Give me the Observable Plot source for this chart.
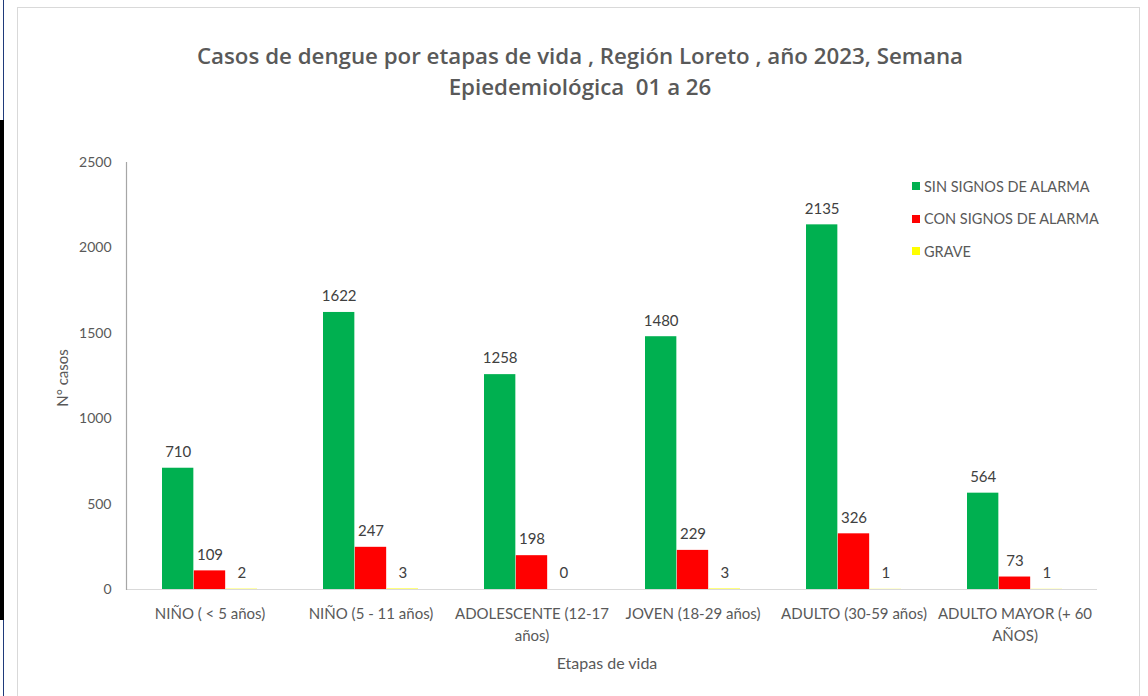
<!DOCTYPE html>
<html>
<head>
<meta charset="utf-8">
<script src="https://cdn.jsdelivr.net/npm/d3@7"></script>
<script src="https://cdn.jsdelivr.net/npm/@observablehq/plot@0.6"></script>
<style>
  html, body { margin: 0; padding: 0; background: #fff; }
  #page { position: relative; width: 1148px; height: 696px; overflow: hidden; background: #fff; font-family: Lato, "Open Sans", sans-serif; }
  #chart { position: absolute; left: 0; top: 0; }
  .strip { position: absolute; left: 0; width: 3px; }
  #frame { position: absolute; left: 17px; top: 7px; width: 1123px; height: 720px; border: 1px solid #d9d9d9; box-sizing: border-box; }
  #title { position: absolute; left: 0; width: 1160px; top: 40px; text-align: center; color: #595959; font-family: "Open Sans", sans-serif; font-weight: 600; font-size: 22.3px; line-height: 31px; }
  #legend { position: absolute; left: 912px; top: 170px; color: #595959; font-size: 14.5px; }
  #legend .row { display: flex; align-items: center; height: 32.5px; }
  #legend .sw { width: 8px; height: 8px; margin-right: 4px; }
  #ytitle { position: absolute; left: 62px; top: 378px; transform: translate(-50%, -50%) rotate(-90deg); color: #595959; font-size: 15px; white-space: nowrap; }
  #xtitle { position: absolute; left: 607px; top: 662px; transform: translate(-50%, -50%); color: #595959; font-size: 16px; white-space: nowrap; }
</style>
</head>
<body>
<div id="page">
  <div class="strip" style="top:0;height:120px;border-right:1px solid #1f3a7a;background:#fff;width:3px"></div>
  <div class="strip" style="top:120px;height:500px;background:#000;width:4px"></div>
  <div class="strip" style="top:620px;height:76px;border-right:1px solid #1f3a7a;background:#fff;width:3px"></div>
  <div id="frame"></div>
  <div id="chart"></div>
  <div id="title">Casos de dengue por etapas de vida , Región Loreto , año 2023, Semana<br>Epiedemiológica&nbsp;&nbsp;01 a 26</div>
  <div id="ytitle">N° casos</div>
  <div id="xtitle">Etapas de vida</div>
  <div id="legend"></div>
</div>
<script>
const categories = ["NIÑO ( < 5 años)", "NIÑO (5 - 11 años)", "ADOLESCENTE (12-17 años)", "JOVEN (18-29 años)", "ADULTO (30-59 años)", "ADULTO MAYOR (+ 60 AÑOS)"];
const tickLabels = ["NIÑO ( < 5 años)", "NIÑO (5 - 11 años)", "ADOLESCENTE (12-17\naños)", "JOVEN (18-29 años)", "ADULTO (30-59 años)", "ADULTO MAYOR (+ 60\nAÑOS)"];
const sinSignos = [710, 1622, 1258, 1480, 2135, 564];
const conSignos = [109, 247, 198, 229, 326, 73];
const grave = [2, 3, 0, 3, 1, 1];
const seriesNames = ["SIN SIGNOS DE ALARMA", "CON SIGNOS DE ALARMA", "GRAVE"];
const seriesColors = ["#00B050", "#FF0000", "#FFFF00"];
const yTicks = [0, 500, 1000, 1500, 2000, 2500];

const seriesValues = [sinSignos, conSignos, grave];

const W = 1148, H = 696;
const mLeft = 126, mRight = 51, mTop = 162, mBottom = 107;
const padInner = 0.41;
const step = (W - mLeft - mRight) / categories.length;
const third = step * (1 - padInner) / 3;

const marks = [];
seriesValues.forEach((vals, k) => {
  const data = categories.map((c, i) => ({cat: c, value: vals[i]}));
  marks.push(Plot.barY(data, {
    x: "cat", y: "value", fill: seriesColors[k],
    insetLeft: k * third, insetRight: (2 - k) * third
  }));
  marks.push(Plot.text(data, {
    x: "cat", y: "value", text: d => String(d.value),
    dx: (k - 1) * third, dy: -16, fill: "#404040", fontSize: 15
  }));
});
marks.push(Plot.ruleY([0], {stroke: "#d9d9d9", strokeWidth: 1.2}));
marks.push(Plot.frame({anchor: "left", stroke: "#a6a6a6", strokeWidth: 1.2}));
marks.push(Plot.axisY({ticks: yTicks, tickSize: 0, tickPadding: 15, fontSize: 14, fill: "#595959", label: null,
  tickFormat: d => String(d)}));
marks.push(Plot.axisX({tickSize: 0, tickPadding: 14, fontSize: 15, fill: "#595959", label: null, lineHeight: 1.45,
  tickFormat: c => tickLabels[categories.indexOf(c)]}));

const chart = Plot.plot({
  width: W, height: H,
  marginLeft: mLeft, marginRight: mRight, marginTop: mTop, marginBottom: mBottom,
  style: {background: "transparent", fontFamily: "Lato, 'Open Sans', sans-serif", color: "#595959"},
  x: {type: "band", domain: categories, paddingInner: padInner, paddingOuter: padInner / 2, axis: null},
  y: {domain: [0, 2500], axis: null},
  marks
});
document.getElementById("chart").appendChild(chart);
</script>
<script>
// legend built from the series arrays
const lg = document.getElementById("legend");
seriesNames.forEach((n, k) => {
  const row = document.createElement("div");
  row.className = "row";
  const sw = document.createElement("span");
  sw.className = "sw";
  sw.style.background = seriesColors[k];
  const t = document.createElement("span");
  t.textContent = n;
  row.appendChild(sw); row.appendChild(t);
  lg.appendChild(row);
});
</script>
</body>
</html>
